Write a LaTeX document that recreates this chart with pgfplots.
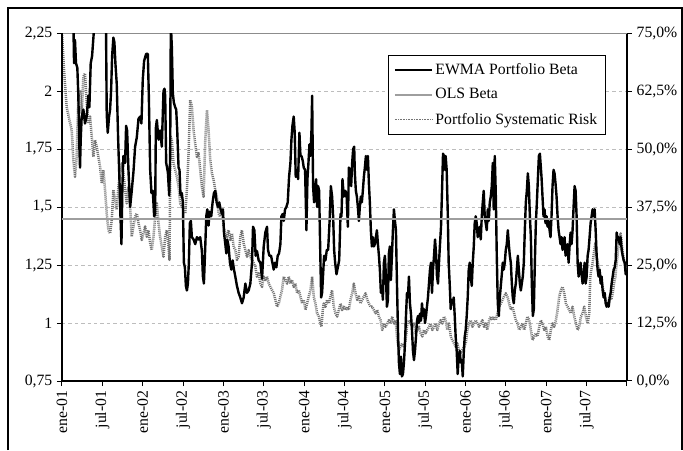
\documentclass[border=0pt]{standalone}
\usepackage{pgfplots}
\pgfplotsset{compat=1.18}
\usepackage{fontspec}
\setmainfont{Liberation Serif}

\definecolor{olsgray}{gray}{0.62}
\definecolor{gridgray}{gray}{0.74}
\definecolor{riskgray}{gray}{0.45}
\definecolor{framegray}{gray}{0.55}

\newcommand{\chartfont}{\fontsize{11.8}{13}\selectfont}

\begin{document}
\begin{tikzpicture}
% page area and chart frame
\path (0pt,0pt) rectangle (512.25pt,337.5pt);
\draw[line width=0.9pt] (6pt,0pt) -- (6pt,331.5pt) -- (511.5pt,331.5pt) -- (511.5pt,0pt);

% secondary axis: portfolio systematic risk (%)
\begin{axis}[
  at={(46.5pt,51.75pt)}, anchor=south west,
  scale only axis, width=423.75pt, height=261pt,
  xmin=0, xmax=84, ymin=0, ymax=75,
  axis x line=none, axis y line*=right,
  axis line style={black, line width=0.9pt},
  ytick={0,12.5,25,37.5,50,62.5,75},
  yticklabels={{0,0\%},{12,5\%},{25,0\%},{37,5\%},{50,0\%},{62,5\%},{75,0\%}},
  tick align=outside, major tick length=3.75pt,
  tick style={black, line width=0.75pt},
  yticklabel style={font=\chartfont, anchor=west},
  ymajorgrids,
  major grid style={gridgray, line width=0.7pt, dash pattern=on 2.6pt off 2.2pt},
  clip=true,
]
\addplot[riskgray, line width=1.9pt, dash pattern=on 0.75pt off 0.75pt, line join=round] coordinates {
(0,75.0) (0.30,67.0) (0.69,59.1) (1.09,56.3) (1.44,54.1) (1.69,47.6) (1.93,44.0) (2.18,48.3)
(2.43,61.3) (2.68,62.7) (2.93,57.7) (3.18,65.6) (3.42,66.3) (3.67,59.9) (3.92,55.5) (4.17,57.0)
(4.42,52.7) (4.67,48.3) (4.91,51.9) (5.16,50.5) (5.41,48.3) (5.66,46.2) (5.91,42.6) (6.15,45.5)
(6.40,41.2) (6.65,36.1) (6.90,32.5) (7.15,31.8) (7.40,34.7) (7.64,41.2) (7.89,39.0) (8.14,36.9)
(8.39,41.9) (8.64,44.8) (8.89,46.9) (9.13,44.8) (9.38,41.2) (9.63,38.3) (9.88,41.9) (10.13,37.6)
(10.37,31.1) (10.62,33.3) (10.87,35.4) (11.12,36.1) (11.37,34.0) (11.62,32.5) (11.86,30.4) (12.11,31.8)
(12.36,33.3) (12.61,31.1) (12.86,32.5) (13.11,29.7) (13.35,28.2) (13.60,31.1) (13.85,35.4) (14.10,38.3)
(14.35,34.0) (14.59,31.1) (14.84,28.9) (15.09,26.8) (15.34,31.1) (15.59,32.5) (15.84,28.9) (15.98,26.1)
(16.13,52.7) (16.33,51.9) (16.58,46.9) (16.83,45.5) (17.08,44.0) (17.33,41.9) (17.57,38.3) (17.82,37.6)
(18.07,36.9) (18.32,36.1) (18.57,41.2) (18.82,49.1) (19.06,60.6) (19.31,59.1) (19.56,54.1) (19.81,51.2)
(20.06,48.3) (20.30,49.1) (20.55,45.5) (20.80,41.9) (21.05,39.7) (21.30,51.9) (21.55,58.4) (21.79,54.1)
(22.04,47.6) (22.29,44.8) (22.54,43.3) (22.79,41.2) (23.04,39.7) (23.28,36.1) (23.53,35.4) (23.78,36.9)
(24.03,33.3) (24.28,31.8) (24.52,31.1) (24.77,32.5) (25.02,30.4) (25.27,31.8) (25.52,28.9) (25.77,28.2)
(26.01,26.1) (26.26,26.8) (26.51,31.1) (26.76,32.5) (27.01,29.7) (27.26,28.2) (27.50,26.8) (27.75,28.2)
(28.00,26.8) (28.25,26.1) (28.50,25.4) (28.74,24.6) (28.99,22.5) (29.24,23.2) (29.49,21.0) (29.74,20.3)
(29.99,22.5) (30.23,21.8) (30.48,22.5) (30.73,21.0) (30.98,20.3) (31.23,19.6) (31.48,18.9) (31.72,17.5)
(31.97,16.0) (32.22,16.7) (32.47,18.2) (32.72,19.6) (32.97,22.5) (33.21,21.8) (33.46,21.0) (33.71,22.5)
(33.96,21.0) (34.21,21.8) (34.45,20.3) (34.70,21.0) (34.95,18.9) (35.20,19.6) (35.45,18.2) (35.70,16.7)
(35.94,17.5) (36.19,15.3) (36.44,16.7) (36.69,18.2) (36.94,19.6) (37.19,22.5) (37.43,18.2) (37.68,16.7)
(37.93,14.6) (38.18,13.9) (38.43,12.4) (38.58,11.7) (38.77,15.3) (38.92,16.7) (39.17,16.0) (39.42,17.5)
(39.67,16.7) (39.92,18.2) (40.16,19.6) (40.41,16.0) (40.66,14.6) (40.91,13.9) (41.16,15.3) (41.41,16.7)
(41.65,15.3) (41.90,16.0) (42.15,15.3) (42.40,16.0) (42.65,15.3) (42.89,17.5) (43.14,18.9) (43.39,21.0)
(43.64,18.9) (43.89,17.5) (44.14,18.2) (44.38,16.7) (44.63,17.5) (44.88,18.2) (45.13,18.9) (45.38,17.5)
(45.63,16.7) (45.87,16.0) (46.12,16.0) (46.37,15.3) (46.62,14.6) (46.87,15.3) (47.12,13.9) (47.36,13.1)
(47.61,11.0) (47.86,12.4) (48.11,11.7) (48.36,12.4) (48.60,13.1) (48.85,12.4) (49.10,13.9) (49.35,12.4)
(49.60,13.1) (49.85,8.8) (50.09,6.7) (50.34,7.4) (50.59,8.1) (50.84,7.4) (51.09,8.8) (51.34,12.4)
(51.58,13.1) (51.83,12.4) (52.08,11.7) (52.33,12.4) (52.58,10.3) (52.82,11.0) (53.07,11.7) (53.32,10.3)
(53.57,9.6) (53.82,11.0) (54.07,10.3) (54.31,11.0) (54.56,11.7) (54.81,12.4) (55.06,11.0) (55.31,11.7)
(55.56,12.4) (55.80,11.0) (56.05,12.4) (56.30,13.1) (56.55,12.4) (56.80,13.9) (57.04,13.1) (57.29,11.0)
(57.54,12.4) (57.79,9.6) (58.04,8.8) (58.29,8.1) (58.53,7.4) (58.78,8.1) (59.03,6.7) (59.28,6.0)
(59.53,6.7) (59.78,7.4) (60.02,8.1) (60.27,11.0) (60.52,12.4) (60.77,13.1) (61.02,11.7) (61.27,12.4)
(61.51,13.1) (61.76,12.4) (62.01,11.7) (62.26,12.4) (62.51,13.1) (62.75,11.7) (63.00,12.4) (63.25,11.0)
(63.50,13.1) (63.75,13.9) (64.00,13.1) (64.24,13.9) (64.49,13.1) (64.74,14.6) (64.99,16.0) (65.24,16.7)
(65.49,17.5) (65.73,18.2) (65.98,18.9) (66.23,18.2) (66.48,16.7) (66.73,15.3) (66.97,16.0) (67.22,14.6)
(67.47,13.1) (67.72,12.4) (67.97,11.0) (68.22,11.7) (68.46,12.4) (68.71,11.0) (68.96,12.4) (69.21,13.9)
(69.46,13.1) (69.71,11.0) (69.95,8.8) (70.20,9.6) (70.45,10.3) (70.70,9.6) (70.95,11.7) (71.19,13.1)
(71.44,12.4) (71.69,11.0) (71.94,11.7) (72.19,9.6) (72.44,8.8) (72.68,11.0) (72.93,12.4) (73.18,11.7)
(73.43,13.1) (73.68,15.3) (73.93,18.2) (74.17,19.6) (74.42,20.3) (74.67,18.9) (74.92,16.7) (75.17,16.0)
(75.42,15.3) (75.66,14.6) (75.91,16.0) (76.16,13.9) (76.41,12.4) (76.66,11.0) (76.90,11.7) (77.15,13.9)
(77.40,14.6) (77.65,16.0) (77.90,13.9) (78.15,12.4) (78.39,14.6) (78.54,22.5) (78.69,23.9) (78.89,25.4)
(79.14,28.2) (79.29,29.7) (79.49,26.8) (79.68,25.4) (79.88,23.9) (80.08,22.5) (80.28,21.0) (80.48,19.6)
(80.68,18.2) (80.88,17.5) (81.07,16.7) (81.27,16.0) (81.47,18.2) (81.67,17.5) (81.87,18.9) (82.07,21.0)
(82.27,22.5) (82.47,25.4) (82.66,28.2) (82.86,29.7) (83.06,31.8) (83.26,28.9) (83.46,26.8) (83.66,25.4)
(83.81,24.6) (83.90,23.9)
};
\draw[framegray, line width=0.75pt] (rel axis cs:0,1) -- (rel axis cs:1,1);
\end{axis}

% primary axis: betas
\begin{axis}[
  at={(46.5pt,51.75pt)}, anchor=south west,
  scale only axis, width=423.75pt, height=261pt,
  xmin=0, xmax=84, ymin=0.75, ymax=2.25,
  axis x line*=bottom, axis y line*=left,
  axis line style={black, line width=0.9pt},
  xtick={0,6,...,84},
  xticklabels={ene-01,jul-01,ene-02,jul-02,ene-03,jul-03,ene-04,jul-04,ene-05,jul-05,ene-06,jul-06,ene-07,jul-07,{}},
  ytick={0.75,1,1.25,1.5,1.75,2,2.25},
  yticklabels={{0,75},1,{1,25},{1,5},{1,75},2,{2,25}},
  tick align=outside, major tick length=3.75pt,
  tick style={black, line width=0.75pt},
  xticklabel style={font=\chartfont, rotate=90, anchor=east},
  yticklabel style={font=\chartfont, anchor=east},
  clip=true,
  legend image code/.code={\draw[#1] (0pt,0pt) -- (27.75pt,0pt);},
  legend cell align=left,
  legend style={at={(0.577,0.937)}, anchor=north west, draw=black, line width=0.75pt,
    fill=white, font=\chartfont, inner xsep=4pt, inner ysep=4pt, row sep=5pt,
    /tikz/every even column/.append style={column sep=3pt}},
]
\addlegendimage{black, line width=1.5pt}
\addlegendentry{EWMA Portfolio Beta}
\addlegendimage{olsgray, line width=1.5pt}
\addlegendentry{OLS Beta}
\addlegendimage{riskgray, line width=1.1pt, dash pattern=on 0.6pt off 0.6pt}
\addlegendentry{Portfolio Systematic Risk}

\addplot[black, line width=1.8pt, line join=round, forget plot] coordinates {
(0,2.45) (1.0,2.45) (1.69,2.30) (1.79,2.12) (1.93,2.22) (2.08,2.12) (2.28,2.10) (2.43,1.98)
(2.58,1.76) (2.68,1.67) (2.78,1.79) (2.93,1.89) (3.18,1.92) (3.42,1.86) (3.67,1.89) (3.92,1.98)
(4.07,1.93) (4.27,2.12) (4.47,2.15) (4.67,2.23) (4.86,2.31) (5.41,2.45) (6.15,2.40) (6.45,2.30)
(6.55,2.25) (6.65,1.90) (6.80,1.82) (7.00,1.89) (7.15,1.92) (7.30,2.00) (7.45,2.15) (7.64,2.23)
(7.79,2.21) (7.94,2.12) (8.14,2.03) (8.34,1.80) (8.54,1.62) (8.69,1.46) (8.84,1.34) (8.98,1.59)
(9.13,1.72) (9.38,1.69) (9.53,1.85) (9.68,1.83) (9.88,1.66) (10.13,1.50) (10.37,1.57) (10.62,1.65)
(10.87,1.76) (11.12,1.80) (11.37,1.88) (11.62,1.89) (11.81,1.86) (12.01,2.05) (12.21,2.13) (12.51,2.16)
(12.76,2.16) (12.91,1.98) (13.11,1.66) (13.30,1.56) (13.50,1.57) (13.70,1.46) (13.85,1.47) (13.95,1.84)
(14.10,1.875) (14.35,1.79) (14.59,1.83) (14.84,1.76) (15.09,2.00) (15.24,2.01) (15.34,1.98) (15.49,1.69)
(15.74,1.65) (15.94,1.55) (16.08,1.72) (16.18,2.29) (16.33,2.19) (16.48,1.99) (16.63,1.95) (16.83,1.93)
(16.98,1.92) (17.13,1.83) (17.33,1.67) (17.47,1.66) (17.62,1.55) (17.82,1.56) (17.97,1.52) (18.12,1.26)
(18.27,1.24) (18.42,1.16) (18.57,1.14) (18.72,1.17) (18.86,1.26) (19.01,1.43) (19.16,1.44) (19.31,1.37)
(19.56,1.36) (19.81,1.34) (20.06,1.37) (20.30,1.36) (20.55,1.37) (20.80,1.31) (20.95,1.20) (21.10,1.17)
(21.30,1.33) (21.45,1.46) (21.60,1.49) (21.79,1.42) (21.94,1.48) (22.19,1.46) (22.39,1.52) (22.59,1.56)
(22.79,1.57) (22.99,1.52) (23.18,1.50) (23.38,1.52) (23.58,1.49) (23.78,1.47) (23.93,1.49) (24.08,1.39)
(24.28,1.34) (24.43,1.30) (24.57,1.36) (24.77,1.33) (24.97,1.26) (25.17,1.23) (25.37,1.27) (25.57,1.23)
(25.77,1.20) (26.01,1.16) (26.26,1.13) (26.51,1.11) (26.76,1.085) (27.01,1.11) (27.26,1.17) (27.50,1.13)
(27.75,1.14) (28.00,1.17) (28.25,1.26) (28.40,1.415) (28.60,1.40) (28.79,1.29) (28.99,1.31) (29.24,1.27)
(29.49,1.26) (29.74,1.19) (29.99,1.33) (30.23,1.39) (30.48,1.415) (30.63,1.315) (30.83,1.29) (31.08,1.29)
(31.28,1.26) (31.48,1.23) (31.67,1.26) (31.87,1.24) (32.07,1.29) (32.27,1.30) (32.47,1.34) (32.62,1.46)
(32.82,1.47) (32.97,1.44) (33.16,1.49) (33.36,1.50) (33.56,1.52) (33.76,1.63) (33.96,1.69) (34.11,1.79)
(34.26,1.85) (34.45,1.89) (34.60,1.82) (34.75,1.63) (34.95,1.66) (35.10,1.62) (35.30,1.82) (35.45,1.72)
(35.60,1.72) (35.79,1.70) (35.94,1.67) (36.14,1.66) (36.34,1.40) (36.49,1.62) (36.64,1.69) (36.79,1.77)
(36.94,1.72) (37.09,1.83) (37.19,1.98) (37.33,1.59) (37.48,1.52) (37.63,1.57) (37.78,1.62) (37.93,1.50)
(38.08,1.59) (38.23,1.57) (38.38,1.33) (38.53,1.11) (38.67,1.13) (38.82,1.21) (38.97,1.29) (39.17,1.27)
(39.37,1.315) (39.57,1.315) (39.77,1.43) (39.97,1.59) (40.16,1.545) (40.31,1.46) (40.46,1.315) (40.61,1.26)
(40.81,1.21) (41.01,1.24) (41.21,1.27) (41.41,1.47) (41.55,1.46) (41.70,1.62) (41.90,1.545) (42.10,1.57)
(42.30,1.56) (42.50,1.415) (42.65,1.67) (42.80,1.66) (42.99,1.59) (43.14,1.69) (43.29,1.75) (43.44,1.76)
(43.54,1.645) (43.69,1.57) (43.84,1.545) (43.99,1.50) (44.14,1.44) (44.28,1.50) (44.43,1.545) (44.58,1.52)
(44.73,1.57) (44.88,1.63) (45.03,1.67) (45.18,1.72) (45.33,1.66) (45.48,1.72) (45.63,1.60) (45.77,1.52)
(45.92,1.40) (46.07,1.33) (46.22,1.37) (46.37,1.33) (46.52,1.34) (46.67,1.37) (46.82,1.40) (46.97,1.34)
(47.12,1.29) (47.26,1.23) (47.41,1.13) (47.56,1.16) (47.71,1.10) (47.86,1.26) (48.01,1.29) (48.16,1.20)
(48.31,1.07) (48.46,1.10) (48.60,1.30) (48.75,1.33) (48.90,1.185) (49.05,1.29) (49.20,1.40) (49.35,1.49)
(49.50,1.44) (49.65,1.40) (49.80,1.17) (49.95,0.97) (50.09,0.83) (50.24,0.78) (50.39,0.855) (50.54,0.77)
(50.69,0.78) (50.84,0.83) (50.99,0.91) (51.14,1.03) (51.29,1.13) (51.43,1.11) (51.58,1.20) (51.73,1.085)
(51.88,1.04) (52.03,0.97) (52.18,0.88) (52.33,0.84) (52.48,0.88) (52.63,0.94) (52.78,1.01) (52.92,1.03)
(53.07,1.00) (53.22,1.04) (53.37,1.01) (53.52,1.085) (53.67,1.03) (53.82,1.06) (53.97,1.00) (54.12,1.03)
(54.26,1.07) (54.41,1.11) (54.56,1.17) (54.71,1.23) (54.86,1.26) (55.01,1.13) (55.16,1.23) (55.31,1.29)
(55.46,1.36) (55.61,1.30) (55.75,1.20) (55.90,1.17) (56.05,1.26) (56.20,1.34) (56.35,1.415) (56.50,1.57)
(56.65,1.73) (56.80,1.72) (56.95,1.66) (57.04,1.72) (57.19,1.66) (57.34,1.49) (57.49,1.26) (57.64,1.17)
(57.79,1.06) (57.94,1.10) (58.09,1.085) (58.24,1.11) (58.39,1.03) (58.53,0.94) (58.68,0.88) (58.83,0.78)
(58.98,0.855) (59.13,0.88) (59.28,0.83) (59.43,0.84) (59.58,0.77) (59.73,0.87) (59.87,0.94) (60.02,0.97)
(60.17,1.03) (60.32,1.11) (60.47,1.23) (60.62,1.26) (60.77,1.20) (60.92,1.16) (61.07,1.26) (61.22,1.33)
(61.36,1.43) (61.51,1.46) (61.66,1.43) (61.81,1.37) (61.96,1.40) (62.11,1.415) (62.26,1.36) (62.41,1.46)
(62.56,1.52) (62.70,1.57) (62.85,1.46) (63.00,1.43) (63.15,1.40) (63.30,1.49) (63.45,1.44) (63.60,1.52)
(63.75,1.545) (63.90,1.59) (64.05,1.69) (64.19,1.49) (64.34,1.72) (64.49,1.56) (64.64,1.29) (64.79,1.085)
(64.94,1.03) (65.09,1.11) (65.24,1.16) (65.39,1.21) (65.53,1.26) (65.68,1.23) (65.83,1.26) (65.98,1.315)
(66.13,1.34) (66.28,1.40) (66.43,1.34) (66.58,1.29) (66.73,1.26) (66.88,1.17) (67.02,1.11) (67.17,1.085)
(67.32,1.14) (67.47,1.17) (67.62,1.23) (67.77,1.29) (67.92,1.23) (68.07,1.17) (68.22,1.14) (68.36,1.17)
(68.51,1.20) (68.66,1.26) (68.81,1.40) (68.96,1.52) (69.11,1.57) (69.26,1.645) (69.41,1.59) (69.56,1.46)
(69.71,1.37) (69.85,1.17) (70.00,1.03) (70.15,1.06) (70.30,1.26) (70.45,1.43) (70.60,1.52) (70.75,1.62)
(70.90,1.72) (71.05,1.73) (71.29,1.63) (71.44,1.545) (71.59,1.46) (71.74,1.49) (71.89,1.43) (72.04,1.46)
(72.19,1.415) (72.34,1.44) (72.49,1.40) (72.63,1.37) (72.78,1.46) (72.93,1.59) (73.08,1.66) (73.23,1.645)
(73.38,1.60) (73.53,1.545) (73.68,1.46) (73.83,1.40) (73.98,1.37) (74.12,1.34) (74.27,1.37) (74.42,1.315)
(74.57,1.34) (74.72,1.37) (74.87,1.29) (75.02,1.315) (75.17,1.34) (75.32,1.26) (75.46,1.33) (75.61,1.39)
(75.76,1.34) (75.91,1.40) (76.06,1.50) (76.21,1.59) (76.36,1.57) (76.51,1.46) (76.66,1.26) (76.81,1.20)
(76.95,1.23) (77.10,1.26) (77.25,1.21) (77.40,1.17) (77.55,1.20) (77.70,1.26) (77.85,1.17) (78.00,1.20)
(78.15,1.29) (78.29,1.315) (78.44,1.37) (78.59,1.43) (78.74,1.46) (78.89,1.49) (79.04,1.46) (79.19,1.49)
(79.34,1.40) (79.49,1.29) (79.63,1.23) (79.78,1.20) (79.93,1.23) (80.08,1.17) (80.23,1.20) (80.38,1.14)
(80.53,1.11) (80.68,1.13) (80.83,1.085) (80.98,1.07) (81.12,1.085) (81.27,1.07) (81.42,1.11) (81.57,1.13)
(81.72,1.17) (81.87,1.20) (82.02,1.23) (82.17,1.24) (82.32,1.27) (82.47,1.39) (82.61,1.36) (82.76,1.37)
(82.91,1.34) (83.06,1.37) (83.21,1.315) (83.36,1.29) (83.51,1.27) (83.66,1.26) (83.81,1.21) (83.90,1.23)
};
\addplot[olsgray, line width=1.5pt, forget plot] coordinates {(0,1.448) (84,1.448)};
\end{axis}
\end{tikzpicture}
\end{document}
